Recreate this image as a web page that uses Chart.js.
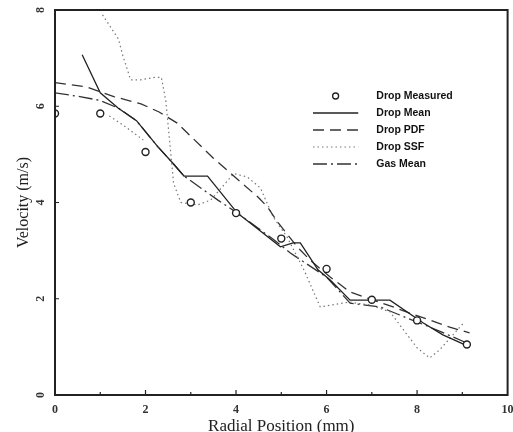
<!DOCTYPE html>
<html>
<head>
<meta charset="utf-8">
<script src="https://cdn.jsdelivr.net/npm/chart.js@4.4.1/dist/chart.umd.min.js"></script>
<style>
  html, body { margin: 0; padding: 0; background: #fff; }
</style>
</head>
<body>
<canvas id="velocityChart" width="513" height="432"></canvas>
<script>
// Radial velocity profiles: measured drops vs. model predictions
const measuredX = [0, 1, 2, 3, 4, 5, 6, 7, 8, 9.1];
const measuredY = [5.85, 5.85, 5.05, 4.0, 3.78, 3.25, 2.62, 1.98, 1.55, 1.05];

const dropMeanX = [0.6, 1.0, 1.4, 1.8, 2.27, 2.6, 2.85, 3.37, 4.03, 4.32, 4.98, 5.26, 5.42, 5.81, 6.08, 6.52, 7.4, 8.13, 8.57, 9.16];
const dropMeanY = [7.07, 6.28, 5.96, 5.7, 5.16, 4.82, 4.55, 4.55, 3.78, 3.57, 3.08, 3.16, 3.16, 2.6, 2.39, 1.97, 1.97, 1.5, 1.25, 1.0];

const pdfX = [0, 0.7, 1.3, 1.9, 2.3, 2.7, 3.5, 4.5, 4.7, 4.93, 5.35, 5.64, 6.08, 6.52, 7.03, 7.47, 7.84, 8.28, 8.72, 9.16];
const pdfY = [6.49, 6.4, 6.2, 6.05, 5.88, 5.65, 4.92, 4.1, 3.9, 3.58, 3.08, 2.8, 2.45, 2.14, 1.97, 1.83, 1.7, 1.56, 1.41, 1.29];

// null entry splits the short lower piece from the main SSF curve
const ssfX = [1.2, 1.56, 1.95, null, 1.05, 1.4, 1.5, 1.67, 1.9, 2.2, 2.35, 2.45, 2.55, 2.62, 2.78, 3.15, 3.44, 3.95, 4.25, 4.54, 4.82, 5.13, 5.5, 5.86, 6.5, 6.96, 7.4, 7.67, 8.0, 8.28, 8.5, 9.05];
const ssfY = [5.8, 5.57, 5.3, null, 7.9, 7.4, 7.05, 6.55, 6.55, 6.6, 6.6, 6.1, 5.1, 4.4, 4.0, 3.95, 4.05, 4.6, 4.53, 4.3, 3.7, 3.28, 2.6, 1.83, 1.93, 1.87, 1.73, 1.39, 0.98, 0.77, 0.94, 1.52];

const gasMeanX = [0, 0.55, 1.0, 1.4, 1.8, 2.27, 2.6, 2.85, 3.6, 4.03, 4.8, 5.2, 6.0, 6.52, 7.18, 7.78, 8.44, 9.1];
const gasMeanY = [6.28, 6.2, 6.12, 5.96, 5.7, 5.16, 4.82, 4.55, 4.05, 3.78, 3.25, 2.95, 2.45, 1.91, 1.83, 1.6, 1.35, 1.08];

const xTicks = [0, 2, 4, 6, 8, 10];
const yTicks = [0, 2, 4, 6, 8];

function toPoints(xs, ys) {
  return xs.map((x, i) => ({ x: x, y: ys[i] }));
}

const ink = "#222";

// Boxed frame with small inward tick marks
const framePlugin = {
  id: "frame",
  afterDraw(chart) {
    const { ctx, chartArea: a, scales } = chart;
    ctx.save();
    ctx.strokeStyle = ink;
    ctx.lineWidth = 2;
    ctx.strokeRect(a.left, a.top, a.right - a.left, a.bottom - a.top);
    ctx.lineWidth = 1.2;
    ctx.beginPath();
    for (let v = 1; v < 10; v++) {
      const px = scales.x.getPixelForValue(v);
      const len = v % 2 === 0 ? 5 : 3;
      ctx.moveTo(px, a.bottom);
      ctx.lineTo(px, a.bottom - len);
    }
    yTicks.slice(1, -1).forEach((v) => {
      const py = scales.y.getPixelForValue(v);
      ctx.moveTo(a.left, py);
      ctx.lineTo(a.left + 4, py);
    });
    ctx.stroke();
    ctx.restore();
  },
};

// Legend drawn inside the plot area
const innerLegend = {
  id: "innerLegend",
  afterDraw(chart) {
    const { ctx, chartArea: a } = chart;
    const w = a.right - a.left;
    const x0 = a.left + w * 0.57;
    const x1 = a.left + w * 0.67;
    const tx = a.left + w * 0.71;
    let y = a.top + 86;
    ctx.save();
    ctx.font = "bold 10.5px 'Liberation Sans', Arial, sans-serif";
    ctx.textBaseline = "middle";
    ctx.fillStyle = "#111";
    chart.data.datasets.forEach((ds) => {
      if (ds.showLine === false) {
        ctx.beginPath();
        ctx.arc((x0 + x1) / 2, y, 3, 0, Math.PI * 2);
        ctx.lineWidth = 1.3;
        ctx.strokeStyle = ink;
        ctx.stroke();
      } else {
        ctx.beginPath();
        ctx.setLineDash(ds.borderDash || []);
        ctx.lineWidth = ds.borderWidth;
        ctx.strokeStyle = ds.borderColor;
        ctx.moveTo(x0, y);
        ctx.lineTo(x1, y);
        ctx.stroke();
        ctx.setLineDash([]);
      }
      ctx.fillText(ds.label, tx, y);
      y += 17;
    });
    ctx.restore();
  },
};

const ctx = document.getElementById("velocityChart").getContext("2d");
new Chart(ctx, {
  type: "scatter",
  data: {
    datasets: [
      {
        label: "Drop Measured",
        data: toPoints(measuredX, measuredY),
        showLine: false,
        pointRadius: 3.5,
        pointBorderWidth: 1.4,
        pointBorderColor: ink,
        pointBackgroundColor: "#fff",
      },
      {
        label: "Drop Mean",
        data: toPoints(dropMeanX, dropMeanY),
        showLine: true,
        borderColor: ink,
        borderWidth: 1.3,
        pointRadius: 0,
      },
      {
        label: "Drop PDF",
        data: toPoints(pdfX, pdfY),
        showLine: true,
        borderColor: "#333",
        borderWidth: 1.3,
        borderDash: [11, 6],
        pointRadius: 0,
      },
      {
        label: "Drop SSF",
        data: toPoints(ssfX, ssfY),
        showLine: true,
        borderColor: "#777",
        borderWidth: 1.2,
        borderDash: [1.5, 3],
        pointRadius: 0,
      },
      {
        label: "Gas Mean",
        data: toPoints(gasMeanX, gasMeanY),
        showLine: true,
        borderColor: "#333",
        borderWidth: 1.3,
        borderDash: [14, 4, 2, 4],
        pointRadius: 0,
      },
    ],
  },
  options: {
    responsive: false,
    animation: false,
    events: [],
    layout: { padding: { left: 0, right: 5, top: 10, bottom: 0 } },
    plugins: {
      legend: { display: false },
      tooltip: { enabled: false },
    },
    scales: {
      x: {
        type: "linear",
        min: 0,
        max: 10,
        afterBuildTicks: (scale) => {
          scale.ticks = xTicks.map((v) => ({ value: v }));
        },
        afterFit: (scale) => {
          scale.height = 37;
          scale.paddingLeft = 0;
          scale.paddingRight = 0;
        },
        grid: { display: false, drawTicks: false },
        border: { display: false },
        ticks: {
          padding: 8,
          color: "#333",
          font: { family: "'Liberation Serif', serif", size: 12, weight: "bold" },
        },
        title: {
          display: true,
          text: "Radial Position (mm)",
          color: ink,
          padding: { top: 0, bottom: -5 },
          font: { family: "'Liberation Serif', serif", size: 17 },
        },
      },
      y: {
        type: "linear",
        min: 0,
        max: 8,
        afterBuildTicks: (scale) => {
          scale.ticks = yTicks.map((v) => ({ value: v }));
        },
        afterFit: (scale) => {
          scale.width = 55;
          scale.paddingTop = 0;
          scale.paddingBottom = 0;
        },
        grid: { display: false, drawTicks: false },
        border: { display: false },
        ticks: {
          padding: 11,
          minRotation: 90,
          maxRotation: 90,
          crossAlign: "center",
          color: "#333",
          font: { family: "'Liberation Serif', serif", size: 12, weight: "bold" },
        },
        title: {
          display: true,
          text: "Velocity (m/s)",
          color: ink,
          padding: { top: 14, bottom: 0 },
          font: { family: "'Liberation Serif', serif", size: 16 },
        },
      },
    },
  },
  plugins: [framePlugin, innerLegend],
});
</script>
</body>
</html>
